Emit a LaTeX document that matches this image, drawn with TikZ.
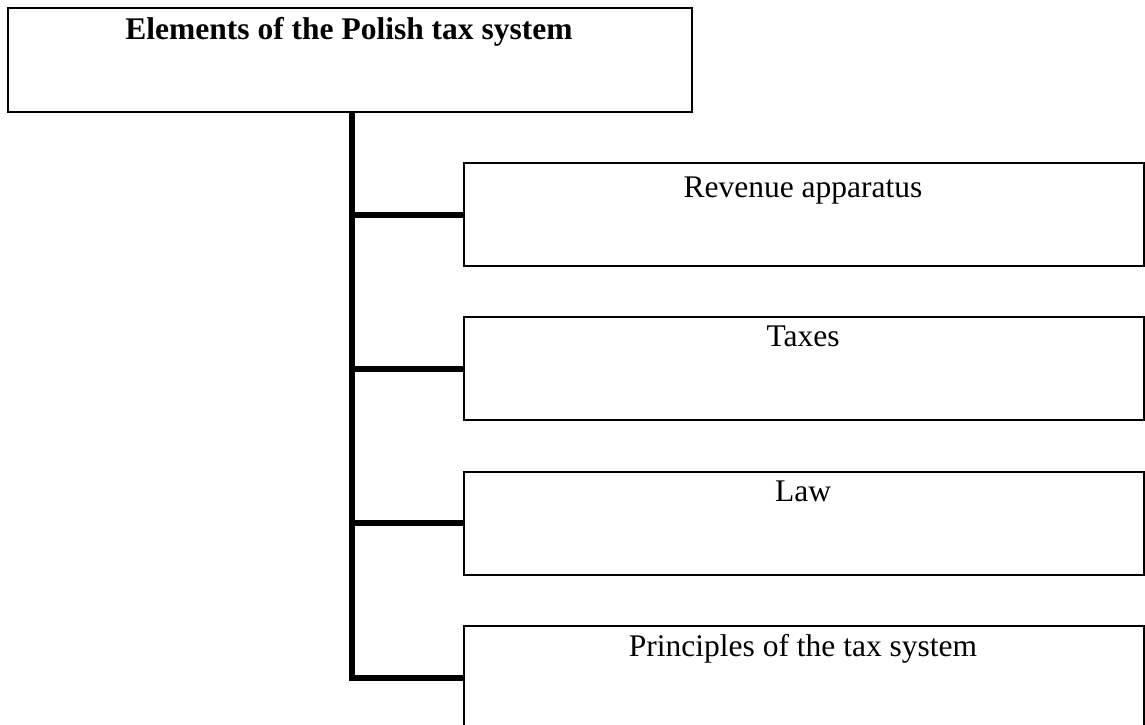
\documentclass[tikz,border=0pt]{standalone}
\usepackage{fontspec}
\setmainfont{Liberation Serif}
\begin{document}
\begin{tikzpicture}[x=1pt,y=-1pt,
  boxshape/.style={draw=black, line width=2pt, rectangle, anchor=north west, inner sep=0pt},
  rbox/.style={boxshape, minimum width=680pt, minimum height=103pt},
  lbl/.style={anchor=base, inner sep=0pt, font=\fontsize{31.5}{38}\selectfont},
  conn/.style={draw=black, line width=6pt, line join=miter}
]
\useasboundingbox (0,0) rectangle (1145,724);
\node[boxshape, minimum width=684pt, minimum height=104pt] (top) at (7,7) {};
\node[rbox] (b1) at (463,162) {};
\node[rbox] (b2) at (463,316) {};
\node[rbox] (b3) at (463,470.5) {};
\node[rbox] (b4) at (463,625) {};

\node[lbl, font=\fontsize{31.5}{38}\selectfont\bfseries] (t0) at (349,39.5) {Elements of the Polish tax system};
\node[lbl] (t1) at (803,197) {Revenue apparatus};
\node[lbl] (t2) at (803,346.5) {Taxes};
\node[lbl] (t3) at (803,501.5) {Law};
\node[lbl] (t4) at (803,656) {Principles of the tax system};

\coordinate (sp) at (351.5,0);
\draw[conn] (sp |- top.south) |- (b4.west);
\draw[conn] (sp |- b1.west) -- (b1.west);
\draw[conn] (sp |- b2.west) -- (b2.west);
\draw[conn] (sp |- b3.west) -- (b3.west);
\end{tikzpicture}
\end{document}
